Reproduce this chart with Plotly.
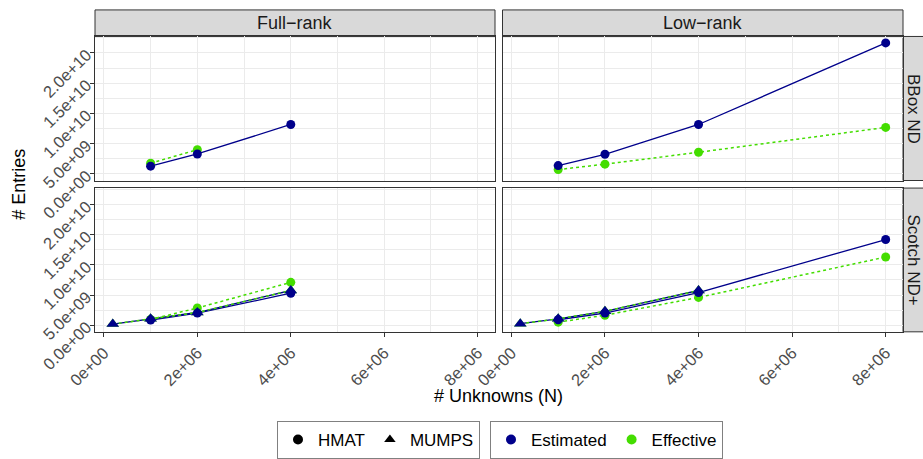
import plotly.graph_objects as go

# ---------------- data ----------------
N_BBOX = [1e6, 2e6, 4e6, 8e6]
N_SCOTCH_HMAT = [1e6, 2e6, 4e6, 8e6]
N_SCOTCH_MUMPS = [0.19e6, 1e6, 2e6, 4e6]

full_bbox_hmat_est = [1.27e9, 3.29e9, 8.17e9]
full_bbox_hmat_eff = [1.76e9, 4.00e9]
low_bbox_hmat_est = [1.37e9, 3.24e9, 8.17e9, 21.66e9]
low_bbox_hmat_eff = [0.71e9, 1.60e9, 3.57e9, 7.68e9]

full_scotch_hmat_est = [0.85e9, 2.00e9, 5.30e9]
full_scotch_hmat_eff = [0.95e9, 2.85e9, 7.10e9]
full_scotch_mumps_est = [0.18e9, 1.05e9, 2.10e9, 5.75e9]
full_scotch_mumps_eff = [0.18e9, 1.05e9, 2.10e9, 5.75e9]

low_scotch_hmat_est = [0.90e9, 2.00e9, 5.40e9, 14.2e9]
low_scotch_hmat_eff = [0.50e9, 1.65e9, 4.60e9, 11.3e9]
low_scotch_mumps_est = [0.25e9, 1.05e9, 2.30e9, 5.75e9]
low_scotch_mumps_eff = [0.25e9, 1.05e9, 2.30e9, 5.75e9]

col_labels = ["Full\u2212rank", "Low\u2212rank"]
row_labels = ["BBox ND", "Scotch ND+"]

x_tickvals = [0, 2e6, 4e6, 6e6, 8e6]
x_ticktext = ["0e+00", "2e+06", "4e+06", "6e+06", "8e+06"]
x_minor = [1e6, 3e6, 5e6, 7e6]
y_tickvals = [0, 5e9, 1e10, 1.5e10, 2e10]
y_ticktext = ["0.0e+00", "5.0e+09", "1.0e+10", "1.5e+10", "2.0e+10"]
y_minor = [2.5e9, 7.5e9, 1.25e10, 1.75e10, 2.25e10]

# ---------------- style ----------------
NAVY = "#00008B"
GREEN = "#44DD00"
FONT = "Liberation Sans"
W, H = 923, 459


def px_x(p):
    return p / W


def px_y(p):
    return 1 - p / H


XR = [-0.19e6, 8.37e6]
YR = [-1.1e9, 22.73e9]

col_dom = [[px_x(95), px_x(495)], [px_x(502.5), px_x(903)]]
row_dom = [[px_y(181.7), px_y(36.7)], [px_y(334), px_y(189.3)]]

fig = go.Figure()

panels = {
    (0, 0): ("x", "y"),
    (0, 1): ("x2", "y2"),
    (1, 0): ("x3", "y3"),
    (1, 1): ("x4", "y4"),
}

series = {
    (0, 0): [(N_BBOX, full_bbox_hmat_est, full_bbox_hmat_eff, "circle")],
    (0, 1): [(N_BBOX, low_bbox_hmat_est, low_bbox_hmat_eff, "circle")],
    (1, 0): [(N_SCOTCH_HMAT, full_scotch_hmat_est, full_scotch_hmat_eff, "circle"),
             (N_SCOTCH_MUMPS, full_scotch_mumps_est, full_scotch_mumps_eff, "triangle-up")],
    (1, 1): [(N_SCOTCH_HMAT, low_scotch_hmat_est, low_scotch_hmat_eff, "circle"),
             (N_SCOTCH_MUMPS, low_scotch_mumps_est, low_scotch_mumps_eff, "triangle-up")],
}


def msize(sym):
    return 9 if sym == "circle" else 11


for key, (xa, ya) in panels.items():
    sers = series[key]
    for xs, est, eff, sym in sers:
        fig.add_trace(go.Scatter(x=xs[:len(est)], y=est, mode="lines", xaxis=xa, yaxis=ya,
                                 line=dict(color=NAVY, width=1.3), showlegend=False, hoverinfo="skip"))
    for xs, est, eff, sym in sers:
        fig.add_trace(go.Scatter(x=xs[:len(eff)], y=eff, mode="lines", xaxis=xa, yaxis=ya,
                                 line=dict(color=GREEN, width=1.5, dash="dot"), showlegend=False, hoverinfo="skip"))
    for xs, est, eff, sym in sers:
        fig.add_trace(go.Scatter(x=xs[:len(eff)], y=eff, mode="markers", xaxis=xa, yaxis=ya,
                                 marker=dict(color=GREEN, size=msize(sym), symbol=sym),
                                 showlegend=False))
    for xs, est, eff, sym in sers:
        fig.add_trace(go.Scatter(x=xs[:len(est)], y=est, mode="markers", xaxis=xa, yaxis=ya,
                                 marker=dict(color=NAVY, size=msize(sym), symbol=sym),
                                 showlegend=False))

# legend entries
for name, sym in [("HMAT", "circle"), ("MUMPS", "triangle-up")]:
    fig.add_trace(go.Scatter(x=[None], y=[None], mode="markers", name=name, legend="legend",
                             marker=dict(color="black", symbol=sym, size=10)))
for name, col in [("Estimated", NAVY), ("Effective", GREEN)]:
    fig.add_trace(go.Scatter(x=[None], y=[None], mode="markers", name=name, legend="legend2",
                             marker=dict(color=col, symbol="circle", size=10)))

tickfont = dict(family=FONT, size=16.5, color="#4D4D4D")


def make_x(dom, anchor, labels):
    return dict(domain=dom, anchor=anchor, range=XR, tickmode="array",
                tickvals=x_tickvals, ticktext=x_ticktext, tickangle=-45,
                showticklabels=labels, ticks="outside" if labels else "",
                ticklen=4, tickwidth=1, tickcolor="#333333",
                showgrid=True, gridcolor="#EBEBEB", gridwidth=1.1,
                minor=dict(tickmode="array", tickvals=x_minor, showgrid=True,
                           gridcolor="#EBEBEB", gridwidth=0.55, ticks=""),
                showline=True, mirror=True, linecolor="#333333", linewidth=1,
                zeroline=False, tickfont=tickfont, automargin=False)


def make_y(dom, anchor, labels):
    return dict(domain=dom, anchor=anchor, range=YR, tickmode="array",
                tickvals=y_tickvals, ticktext=y_ticktext, tickangle=-45,
                showticklabels=labels, ticks="outside" if labels else "",
                ticklen=4, tickwidth=1, tickcolor="#333333",
                showgrid=True, gridcolor="#EBEBEB", gridwidth=1.1,
                minor=dict(tickmode="array", tickvals=y_minor, showgrid=True,
                           gridcolor="#EBEBEB", gridwidth=0.55, ticks=""),
                showline=True, mirror=True, linecolor="#333333", linewidth=1,
                zeroline=False, tickfont=tickfont, automargin=False)


layout = dict(
    width=W, height=H,
    margin=dict(l=0, r=0, t=0, b=0),
    paper_bgcolor="white", plot_bgcolor="white",
    font=dict(family=FONT, color="black"),
    xaxis=make_x(col_dom[0], "y", False),
    yaxis=make_y(row_dom[0], "x", True),
    xaxis2=make_x(col_dom[1], "y2", False),
    yaxis2=make_y(row_dom[0], "x2", False),
    xaxis3=make_x(col_dom[0], "y3", True),
    yaxis3=make_y(row_dom[1], "x3", True),
    xaxis4=make_x(col_dom[1], "y4", True),
    yaxis4=make_y(row_dom[1], "x4", False),
    legend=dict(orientation="h", x=px_x(480), xanchor="right", y=px_y(424), yanchor="top",
                bordercolor="#808080", borderwidth=1, bgcolor="white",
                font=dict(family=FONT, size=17, color="black"), itemsizing="trace",
                itemwidth=30),
    legend2=dict(orientation="h", x=px_x(490), xanchor="left", y=px_y(424), yanchor="top",
                 bordercolor="#808080", borderwidth=1, bgcolor="white",
                 font=dict(family=FONT, size=17, color="black"), itemsizing="trace",
                 itemwidth=30),
)
fig.update_layout(**layout)

shapes = []
annotations = []
strip_font = dict(family=FONT, size=18, color="#1A1A1A")
for c in range(2):
    shapes.append(dict(type="rect", xref="paper", yref="paper",
                       x0=col_dom[c][0], x1=col_dom[c][1], y0=px_y(36.7), y1=px_y(10),
                       fillcolor="#D9D9D9", line=dict(color="#333333", width=1), layer="below"))
    annotations.append(dict(text=col_labels[c], xref="paper", yref="paper",
                            x=(col_dom[c][0] + col_dom[c][1]) / 2, y=px_y(23.3),
                            xanchor="center", yanchor="middle", showarrow=False, font=strip_font))
for r in range(2):
    shapes.append(dict(type="rect", xref="paper", yref="paper",
                       x0=px_x(903), x1=px_x(935), y0=row_dom[r][0], y1=row_dom[r][1],
                       fillcolor="#D9D9D9", line=dict(color="#333333", width=1), layer="below"))
    annotations.append(dict(text=row_labels[r], xref="paper", yref="paper",
                            x=px_x(913.5), y=(row_dom[r][0] + row_dom[r][1]) / 2,
                            xanchor="center", yanchor="middle", textangle=90,
                            showarrow=False, font=dict(family=FONT, size=17, color="#1A1A1A")))

annotations.append(dict(text="# Entries", xref="paper", yref="paper", x=px_x(19), y=px_y(186),
                        xanchor="center", yanchor="middle", textangle=-90, showarrow=False,
                        font=dict(family=FONT, size=18, color="black")))
annotations.append(dict(text="# Unknowns (N)", xref="paper", yref="paper", x=px_x(498), y=px_y(399),
                        xanchor="center", yanchor="middle", showarrow=False,
                        font=dict(family=FONT, size=18, color="black")))

fig.update_layout(shapes=shapes, annotations=annotations)
fig.write_html("out.html", config={"displayModeBar": False},
               post_script="document.body.style.margin='0';document.body.style.overflow='hidden';")
